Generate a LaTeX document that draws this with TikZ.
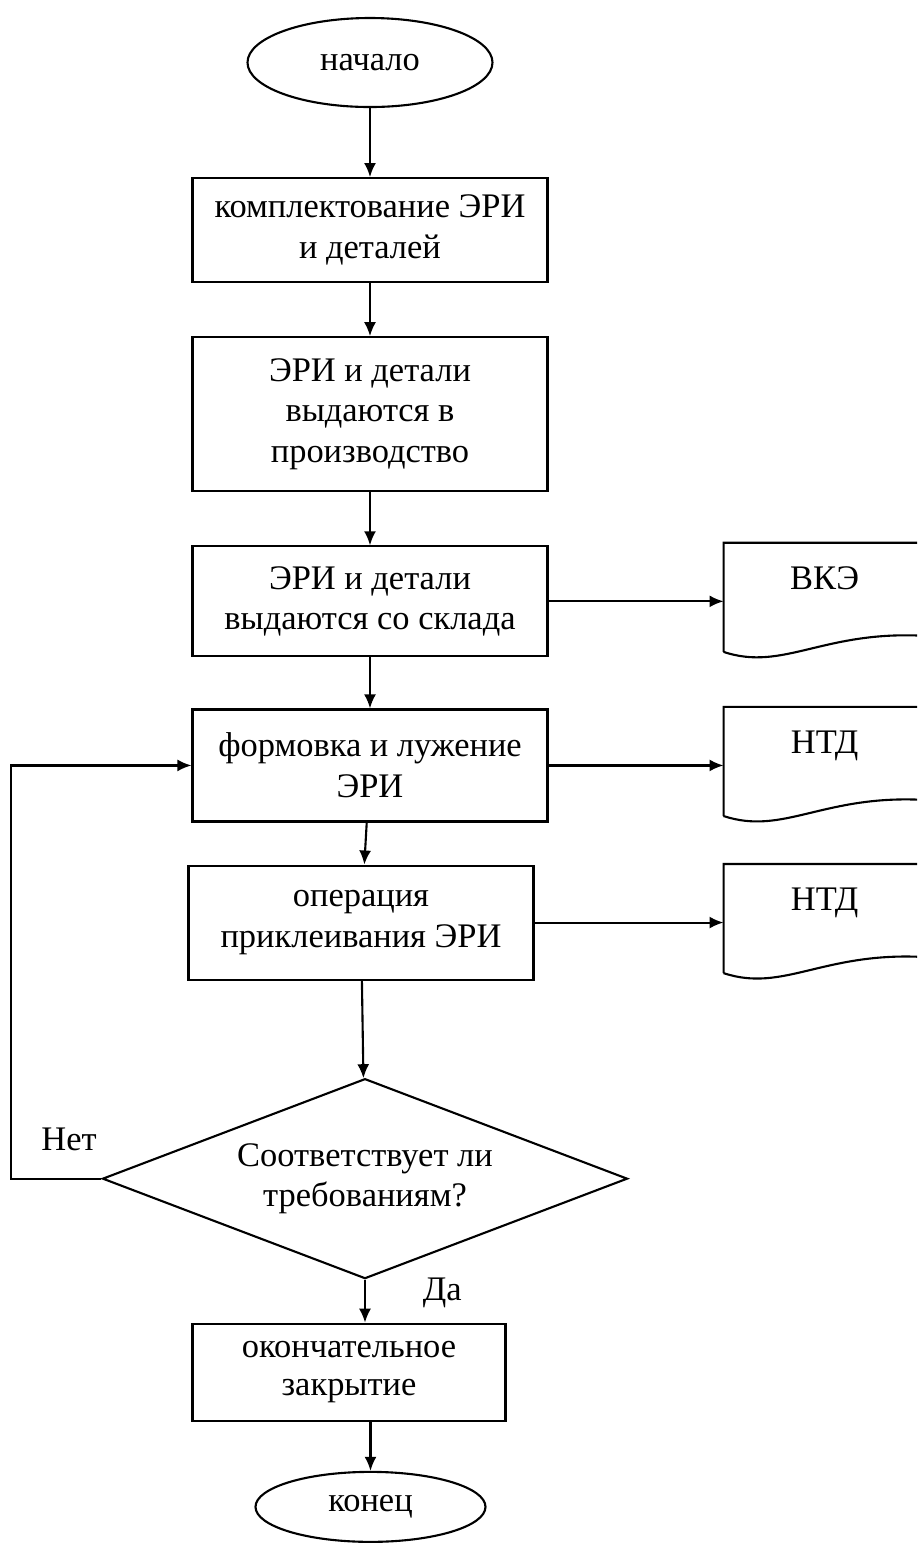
\documentclass[tikz,border=0pt]{standalone}
\usepackage{fontspec}
\setmainfont{Liberation Serif}
\usetikzlibrary{shapes,arrows.meta,positioning}

\tikzset{
    block/.style={rectangle, draw, minimum width=3.55cm, minimum height=1.1cm, align=center, inner sep=2pt},
    term/.style={ellipse, draw, inner sep=1pt},
    decision/.style={diamond, draw, aspect=2.6, minimum width=5.25cm, minimum height=2cm, inner sep=0pt, align=center},
    docnode/.style={rectangle, minimum width=2cm, inner sep=0.115cm, text height=0.34cm, text depth=0.58cm}
}

\begin{document}
\begin{tikzpicture}[line width=0.6pt, >={Latex[length=1.4mm,width=1.2mm]},
    font=\fontsize{9.8}{11.6}\selectfont]
    \useasboundingbox (0,0) rectangle (9.17,-15.52);
    \clip (0,0) rectangle (9.17,-15.52);

    \node[term, minimum width=2.45cm, minimum height=0.89cm] (start) at (3.70,-0.625) {начало};
    \node[block, minimum height=1.04cm, below=0.69cm of start] (pick) {комплектование ЭРИ\\и деталей};
    \node[block, minimum height=1.54cm, below=0.53cm of pick] (issue) {ЭРИ и детали\\выдаются в\\производство};
    \node[block, below=0.53cm of issue] (store) {ЭРИ и детали\\выдаются со склада};
    \node[block, minimum height=1.12cm, below=0.51cm of store] (form) {формовка и лужение\\ЭРИ};
    \node[block, minimum width=3.45cm, minimum height=1.14cm, below=0.42cm of form, xshift=-0.09cm] (glue) {операция\\приклеивания ЭРИ};
    \node[decision, below=0.97cm of glue, xshift=0.04cm] (check) {Соответствует ли\\требованиям?};
    \node[block, minimum width=3.13cm, minimum height=0.97cm, below=0.43cm of check, xshift=-0.16cm,
        font=\fontsize{9.8}{10.8}\selectfont] (close) {окончательное\\закрытие};
    \node[term, minimum width=2.30cm, minimum height=0.70cm, below=0.49cm of close, xshift=0.215cm] (stop) {конец};

    \node[docnode, right=1.75cm of store] (vke) {ВКЭ};
    \node[docnode, right=1.75cm of form] (ntdA) {НТД};
    \node[docnode, right=1.89cm of glue] (ntdB) {НТД};

    % document outlines
    \foreach \d in {vke,ntdA,ntdB}
        \draw ([yshift=0.08cm]\d.south west) -- (\d.north west) -- (\d.north east)
            -- ([yshift=0.24cm]\d.south east)
            .. controls ([xshift=1.0cm,yshift=0.3cm]\d.south west) and ([xshift=0.6cm,yshift=-0.12cm]\d.south west)
            .. ([yshift=0.08cm]\d.south west);

    \draw[->] (start) -- (pick);
    \draw[->] (pick) -- (issue);
    \draw[->] (issue) -- (store);
    \draw[->] (store) -- (form);
    \draw[->] (form) -- (glue);
    \draw[->] (glue) -- (check);
    \draw[->] (check.south) -- (check.south |- close.north) node[pos=0.3, right=0.45cm] {Да};
    \draw[->] (close.south -| stop.north) -- (stop.north);

    \draw[->] (store) -- (vke);
    \draw[->] (form) -- (ntdA);
    \draw[->] (glue) -- (ntdB);

    \draw[->] (check.west) -- ++(-0.90,0) node[pos=0.36, above=0.15cm] {Нет} |- (form.west);
\end{tikzpicture}
\end{document}
